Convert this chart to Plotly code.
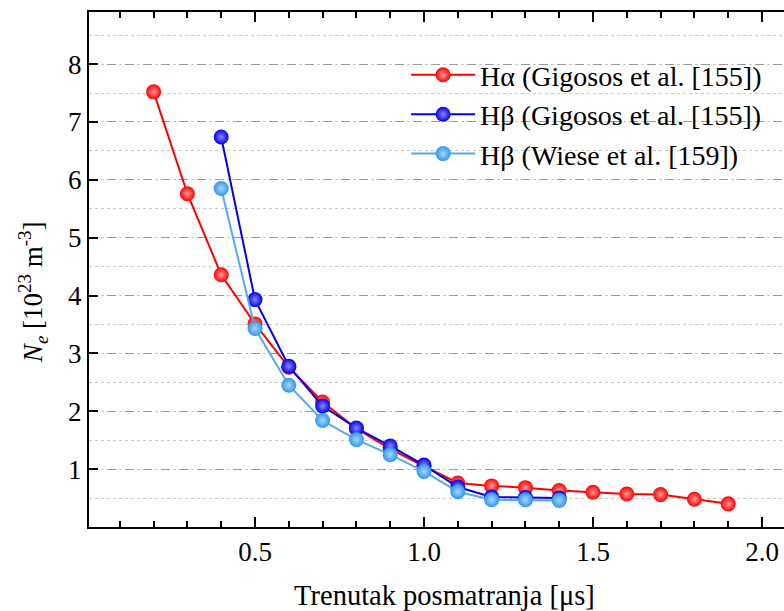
import plotly.graph_objects as go

x_ha = [0.2, 0.3, 0.4, 0.5, 0.6, 0.7, 0.8, 0.9, 1.0, 1.1, 1.2, 1.3, 1.4, 1.5, 1.6, 1.7, 1.8, 1.9]
y_ha = [7.52, 5.76, 4.36, 3.51, 2.76, 2.16, 1.70, 1.35, 1.05, 0.76, 0.71, 0.68, 0.63, 0.60, 0.57, 0.56, 0.48, 0.40]

x_hb_g = [0.4, 0.5, 0.6, 0.7, 0.8, 0.9, 1.0, 1.1, 1.2, 1.3, 1.4]
y_hb_g = [6.74, 3.93, 2.78, 2.09, 1.71, 1.40, 1.07, 0.69, 0.52, 0.51, 0.50]

x_hb_w = [0.4, 0.5, 0.6, 0.7, 0.8, 0.9, 1.0, 1.1, 1.2, 1.3, 1.4]
y_hb_w = [5.85, 3.43, 2.45, 1.84, 1.51, 1.25, 0.96, 0.61, 0.47, 0.47, 0.46]

y_ticks = [1, 2, 3, 4, 5, 6, 7, 8]
x_ticks = [0.5, 1.0, 1.5, 2.0]
x_ticktext = ["0.5", "1.0", "1.5", "2.0"]

names = ["H\u03b1 (Gigosos et al. [155])",
         "H\u03b2 (Gigosos et al. [155])",
         "H\u03b2 (Wiese et al. [159])"]
colors = ["#ff0000", "#0000ee", "#55aaee"]
mcolors = ["#ff0000", "#0000f0", "#2f96ee"]
hcolors = ["#ff9a9a", "#8a8aff", "#a8d6fa"]

fig = go.Figure()
for xs, ys, nm, c, mc, hc in zip([x_ha, x_hb_g, x_hb_w], [y_ha, y_hb_g, y_hb_w],
                                 names, colors, mcolors, hcolors):
    fig.add_trace(go.Scatter(
        x=xs, y=ys, name=nm, mode="lines+markers",
        line=dict(color=c, width=2),
        marker=dict(size=15, color=mc, line=dict(width=0),
                    gradient=dict(type="radial", color=hc)),
    ))

font_family = "Liberation Serif"
fig.update_layout(
    width=800, height=611,
    margin=dict(l=89, r=0, t=12, b=84),
    paper_bgcolor="white", plot_bgcolor="white",
    font=dict(family=font_family, size=27, color="black"),
    showlegend=True,
    legend=dict(x=0.446, y=0.926, xanchor="left", yanchor="top",
                bgcolor="rgba(0,0,0,0)", itemwidth=64, tracegroupgap=0,
                font=dict(family=font_family, size=28)),
    xaxis=dict(
        range=[0.0089, 2.1124], tickvals=x_ticks, ticktext=x_ticktext,
        ticks="inside", ticklen=10, tickwidth=1.5, tickcolor="black",
        showline=True, linewidth=2, linecolor="black", mirror="ticks",
        showgrid=False, zeroline=False, automargin=False,
        tickfont=dict(family=font_family, size=27),
        minor=dict(dtick=0.1, tick0=0, ticks="inside", ticklen=6, tickcolor="black", showgrid=False),
        title=dict(text="Trenutak posmatranja [\u03bcs]", standoff=21,
                   font=dict(family=font_family, size=28.5)),
    ),
    yaxis=dict(
        range=[0, 8.9], tickvals=y_ticks,
        ticks="inside", ticklen=9, tickwidth=1.5, tickcolor="black",
        showline=True, linewidth=2, linecolor="black", mirror="ticks",
        showgrid=True, gridcolor="#999999", gridwidth=1, griddash="dash",
        zeroline=False, automargin=False,
        tickfont=dict(family=font_family, size=27),
        minor=dict(dtick=0.5, tick0=0, showgrid=True, gridcolor="#c8c8c8", griddash="dot", ticks=""),
    ),
    annotations=[dict(
        text="<i>N</i><sub><i>e</i></sub> [10<sup>23</sup> m<sup>-3</sup>]",
        xref="paper", yref="paper", x=-0.0788, y=0.456,
        xanchor="center", yanchor="middle", textangle=-90, showarrow=False,
        font=dict(family=font_family, size=27),
    )],
)

fig.write_html("out.html", post_script="document.body.style.margin='0px';",
               config={"displayModeBar": False})
